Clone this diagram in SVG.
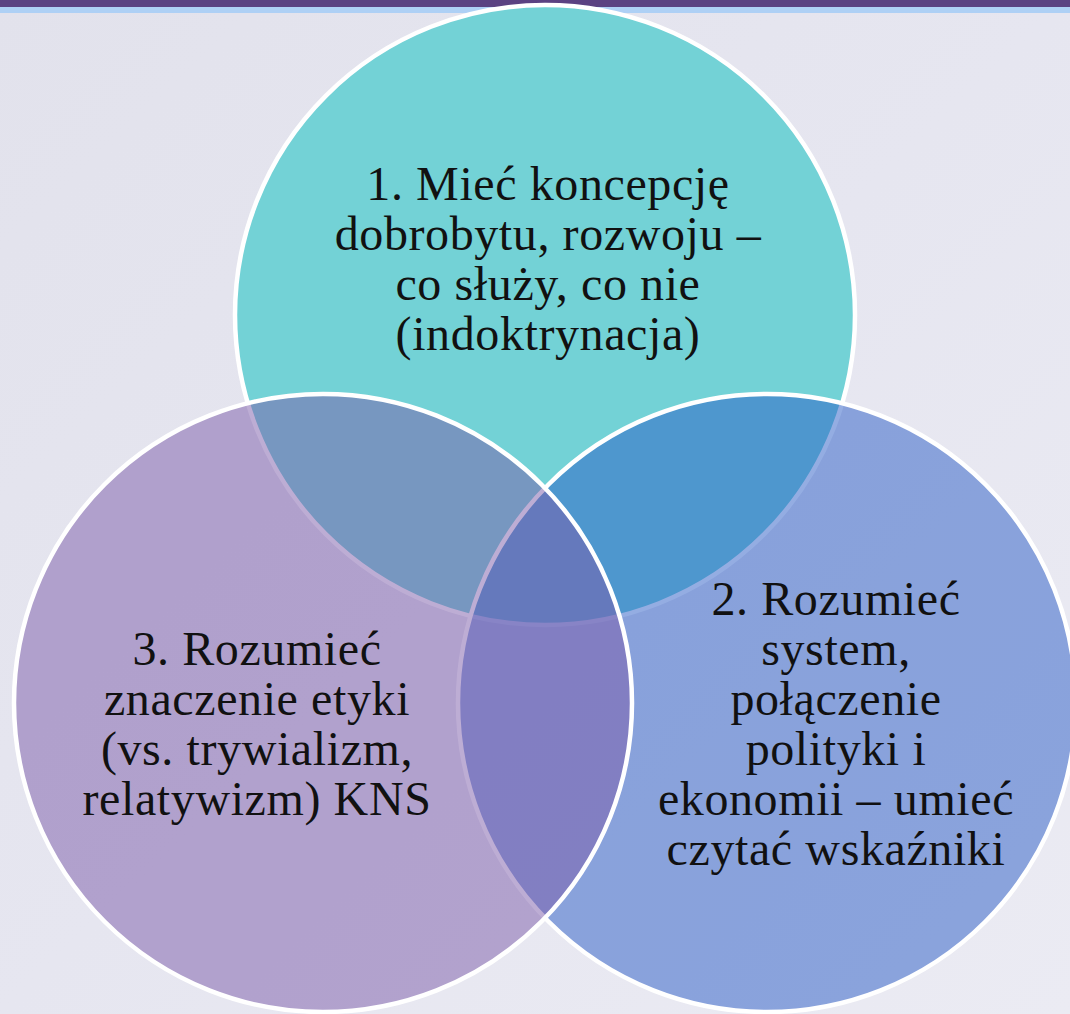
<svg xmlns="http://www.w3.org/2000/svg" width="1070" height="1014" viewBox="0 0 1070 1014">
<style>
.ring{stroke:#ffffff;stroke-width:4.5}
.lbl{font-family:"Liberation Serif","Times New Roman",serif;font-size:48px;letter-spacing:0.6px;fill:#111111;text-anchor:middle}
</style>
<defs>
<linearGradient id="bg" x1="0" y1="0" x2="1" y2="1">
<stop offset="0" stop-color="#e2e2ec"/>
<stop offset="0.5" stop-color="#e6e6f0"/>
<stop offset="1" stop-color="#ebebf3"/>
</linearGradient>
</defs>
<rect x="0" y="0" width="1070" height="1014" fill="url(#bg)"/>
<rect x="0" y="0" width="1070" height="7" fill="#5b4282"/>
<rect x="0" y="7" width="1070" height="6" fill="#aed0f5"/>
<g id="node-top">
<circle class="ring" cx="545" cy="315" r="310" fill="#73d2d6"/>
</g>
<g id="node-right">
<circle class="ring" cx="767" cy="703" r="309" fill="#2a5cc6" fill-opacity="0.5"/>
</g>
<g id="node-left">
<circle class="ring" cx="323" cy="703" r="309" fill="#7c5caa" fill-opacity="0.5"/>
</g>
<g id="connectors"></g>
<g id="label-top">
<text class="lbl" x="548" y="200">1. Mieć koncepcję</text>
<text class="lbl" x="548" y="250">dobrobytu, rozwoju –</text>
<text class="lbl" x="548" y="300">co służy, co nie</text>
<text class="lbl" x="548" y="350">(indoktrynacja)</text>
</g>
<g id="label-right">
<text class="lbl" x="836" y="615">2. Rozumieć</text>
<text class="lbl" x="836" y="665">system,</text>
<text class="lbl" x="836" y="715">połączenie</text>
<text class="lbl" x="836" y="765">polityki i</text>
<text class="lbl" x="836" y="815">ekonomii – umieć</text>
<text class="lbl" x="836" y="865">czytać wskaźniki</text>
</g>
<g id="label-left">
<text class="lbl" x="257" y="665">3. Rozumieć</text>
<text class="lbl" x="257" y="715">znaczenie etyki</text>
<text class="lbl" x="257" y="765">(vs. trywializm,</text>
<text class="lbl" x="257" y="815">relatywizm) KNS</text>
</g>
</svg>
